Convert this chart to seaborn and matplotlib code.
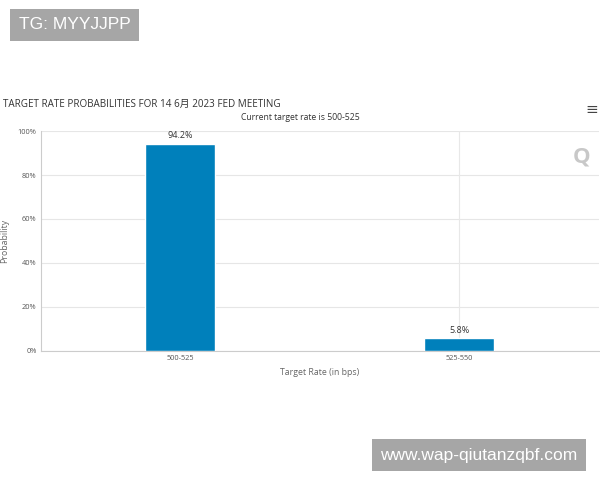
import seaborn as sns
import matplotlib.pyplot as plt
import pandas as pd

# target rate buckets and probabilities (%)
rates = ["500-525", "525-550"]
probs = [94.2, 5.8]
yticks = [0, 20, 40, 60, 80, 100]

df = pd.DataFrame({"rate": rates, "prob": probs})

sns.set_style("white")
plt.rcParams['font.family'] = ['Open Sans', 'Noto Sans CJK SC', 'DejaVu Sans']

fig = plt.figure(figsize=(6, 4.8), dpi=100)
ax = fig.add_axes([0.068, 0.269, 0.93, 0.458])

sns.barplot(data=df, x="rate", y="prob", color="#0080bb", saturation=1,
            width=0.25, ax=ax, zorder=3)

ax.set_ylim(0, 100)
ax.set_xlim(-0.5, 1.5)
ax.set_yticks(yticks)
ax.set_yticklabels([f"{t}%" for t in yticks])
ax.grid(axis="y", color="#e6e6e6", linewidth=0.8, zorder=0)
ax.axvline(1, color="#e8e8e8", linewidth=0.8, zorder=1)
for s in ["top", "right"]:
    ax.spines[s].set_visible(False)
ax.spines["left"].set_color("#cccccc")
ax.spines["bottom"].set_color("#cccccc")
ax.tick_params(axis="both", labelsize=5.3, colors="#555555", length=0, pad=3)

for i, p in enumerate(probs):
    ax.text(i, p + 1.5, f"{p}%", ha="center", va="bottom", fontsize=6.5, color="#333333")

ax.set_xlabel("Target Rate (in bps)", fontsize=6.3, color="#666666", labelpad=4)
ax.set_ylabel("Probability", fontsize=6.3, color="#666666", labelpad=6)

fig.text(0.005, 0.783, "TARGET RATE PROBABILITIES FOR 14 6月 2023 FED MEETING",
         fontsize=7.1, color="#333333", ha="left", va="center")
fig.text(0.5, 0.755, "Current target rate is 500-525", fontsize=6.2,
         color="#333333", ha="center", va="center")
fig.text(0.987, 0.772, "≡", fontsize=11, color="#444444", ha="center", va="center",
         family=['DejaVu Sans'])
fig.text(0.97, 0.672, "Q", fontsize=16, color="#c8c8c8", ha="center", va="center",
         fontweight="bold")

fig.text(0.031, 0.948, "TG: MYYJJPP", fontsize=12.5, color="white", ha="left", va="center",
         bbox=dict(facecolor="#a6a6a6", edgecolor="none", pad=6),
         family=['Liberation Sans', 'DejaVu Sans'])
fig.text(0.634, 0.052, "www.wap-qiutanzqbf.com", fontsize=12.5, color="white", ha="left",
         va="center", bbox=dict(facecolor="#a6a6a6", edgecolor="none", pad=6),
         family=['Liberation Sans', 'DejaVu Sans'])

fig.savefig("out.png", dpi=100)
